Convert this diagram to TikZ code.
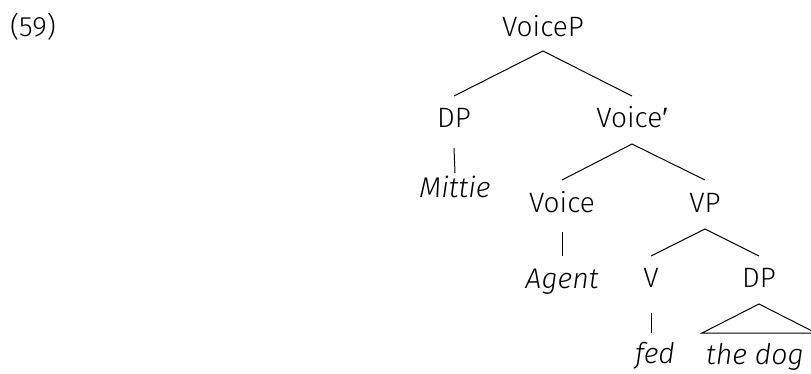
\documentclass[tikz,border=0pt]{standalone}
\usepackage{fontspec}
\setmainfont{Fira Sans}[UprightFont=* Light, ItalicFont=* Light Italic]
\newfontfamily\primefont{Liberation Sans}
\begin{document}
\begin{tikzpicture}[x=1pt,y=-1pt,
  lab/.style={anchor=base,inner sep=0pt,font=\fontsize{28}{32}\selectfont},
  ilab/.style={anchor=base,inner sep=0pt,font=\fontsize{28.5}{33}\selectfont\itshape},
  edge/.style={draw=black,line width=1pt}]
\clip (0,0) rectangle (811,374);
\fill[white] (0,0) rectangle (811,374);
\node[lab] (ex) at (33,37) {(59)};
\node[lab] (VoiceP) at (543,37) {VoiceP};
\node[lab] (DPa) at (454,128) {DP};
\node[lab] (Vbar) at (632,128) {Voice{\primefont ′}};
\node[ilab] (Mittie) at (455,197) {Mittie};
\node[lab] (Voice) at (562,212) {Voice};
\node[lab] (VP) at (705,212) {VP};
\node[ilab] (Agent) at (562,288) {Agent};
\node[lab] (V) at (651,287) {V};
\node[lab] (DPb) at (759,287) {DP};
\node[ilab] (fed) at (655,363) {fed};
\node[ilab] (thedog) at (755,364) {the dog};
\draw[edge] ([yshift=32pt]DPa.base) -- ([yshift=-14pt]VoiceP.base) -- ([yshift=32pt]Vbar.base);
\draw[edge] ([yshift=-20pt]DPa.base) -- ([yshift=24pt]Mittie.base);
\draw[edge] ([yshift=32pt]Voice.base) -- ([yshift=-16pt]Vbar.base) -- ([yshift=32pt]VP.base);
\draw[edge] ([yshift=-20pt]Voice.base) -- ([yshift=32pt]Agent.base);
\draw[edge] ([yshift=31pt]V.base) -- ([yshift=-17pt]VP.base) -- ([yshift=31pt]DPb.base);
\draw[edge] ([yshift=-26pt]V.base) -- ([xshift=-4pt,yshift=30pt]fed.base);
\draw[edge] ([yshift=-17pt]DPb.base) -- ([xshift=-57pt,yshift=-46pt]DPb.base) -- ([xshift=57pt,yshift=-46pt]DPb.base) -- cycle;
\end{tikzpicture}
\end{document}
